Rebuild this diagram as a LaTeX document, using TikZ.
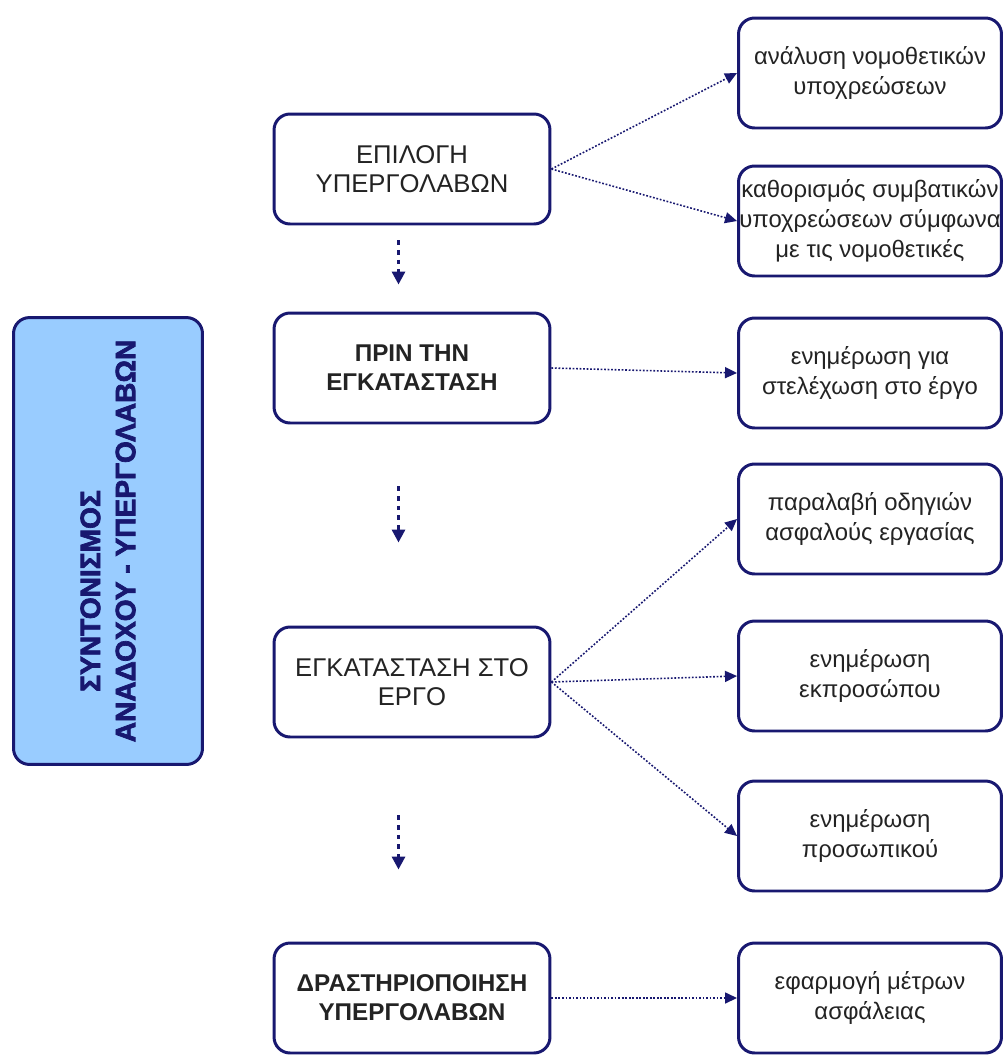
\documentclass[tikz,border=0pt]{standalone}
\usepackage{fontspec}
\setmainfont{Liberation Sans}
\newfontfamily\heavyfont{Liberation Sans Bold}[FakeBold=2.5]
\usetikzlibrary{arrows.meta}
\definecolor{navy}{RGB}{24,24,112}
\definecolor{paleblue}{RGB}{153,204,255}
\definecolor{ink}{RGB}{35,35,35}
\begin{document}
\begin{tikzpicture}[x=0.02cm,y=-0.02cm,
    box/.style={draw=navy,line width=1.7pt,rounded corners=0.32cm,fill=white,align=center,inner sep=0pt},
    stage/.style={box,minimum width=5.52cm,minimum height=2.2cm,text=ink,font=\fontsize{14.6}{16.5}\selectfont},
    task/.style={box,minimum width=5.26cm,minimum height=2.2cm,text=ink,font=\fontsize{13.6}{17}\selectfont},
    link/.style={navy,line width=0.9pt,dash pattern=on 1pt off 1pt,-{Triangle[length=0.24cm,width=0.22cm]}},
    down/.style={navy,line width=1.8pt,dash pattern=on 2.5pt off 3pt,-{Triangle[length=0.26cm,width=0.26cm]}}]
      \useasboundingbox (0,0) rectangle (1006,1059);
      \draw
        (108,541) node[box,fill=paleblue,rotate=90,minimum width=8.94cm,minimum height=3.78cm,text=navy,
          font=\heavyfont\fontsize{16}{20}\selectfont] (0){ΣΥΝΤΟΝΙΣΜΟΣ\hspace*{2cm}\\ΑΝΑΔΟΧΟΥ - ΥΠΕΡΓΟΛΑΒΩΝ}
        (412,169) node[stage] (1){ΕΠΙΛΟΓΗ\\ΥΠΕΡΓΟΛΑΒΩΝ}
        (412,368) node[stage,font=\bfseries\fontsize{13.8}{16.5}\selectfont] (2){ΠΡΙΝ ΤΗΝ\\ΕΓΚΑΤΑΣΤΑΣΗ}
        (412,682) node[stage] (3){ΕΓΚΑΤΑΣΤΑΣΗ ΣΤΟ\\ΕΡΓΟ}
        (412,998) node[stage,font=\bfseries\fontsize{13.8}{16.5}\selectfont] (4){ΔΡΑΣΤΗΡΙΟΠΟΙΗΣΗ\\ΥΠΕΡΓΟΛΑΒΩΝ}
        (870,73) node[task] (5){ανάλυση νομοθετικών\\υποχρεώσεων}
        (870,221) node[task] (6){καθορισμός συμβατικών\\υποχρεώσεων σύμφωνα\\με τις νομοθετικές}
        (870,373) node[task] (7){ενημέρωση για\\στελέχωση στο έργο}
        (870,519) node[task] (8){παραλαβή οδηγιών\\ασφαλούς εργασίας}
        (870,676) node[task] (9){ενημέρωση\\εκπροσώπου}
        (870,836) node[task] (10){ενημέρωση\\προσωπικού}
        (870,998) node[task] (11){εφαρμογή μέτρων\\ασφάλειας};
      \begin{scope}[link]
        \draw (1.east) -- (5.west);
        \draw (1.east) -- (6.west);
        \draw (2.east) -- (7.west);
        \draw (3.east) -- (8.west);
        \draw (3.east) -- (9.west);
        \draw (3.east) -- (10.west);
        \draw (4.east) -- (11.west);
      \end{scope}
      \begin{scope}[down]
        \draw[shorten <=0.3cm,shorten >=0.54cm] ([xshift=-0.27cm]1.south) -- ([xshift=-0.27cm]2.north);
        \draw[shorten <=1.24cm,shorten >=1.66cm] ([xshift=-0.27cm]2.south) -- ([xshift=-0.27cm]3.north);
        \draw[shorten <=1.54cm,shorten >=1.44cm] ([xshift=-0.27cm]3.south) -- ([xshift=-0.27cm]4.north);
      \end{scope}
    \end{tikzpicture}
\end{document}
